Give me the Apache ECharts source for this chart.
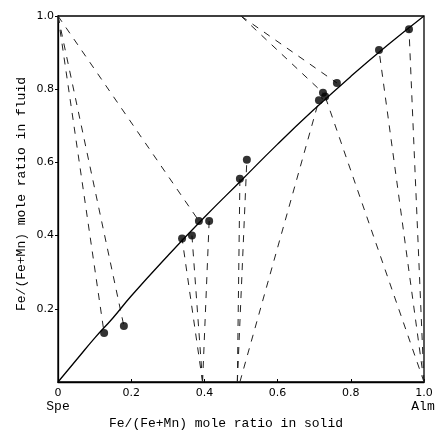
<!DOCTYPE html>
<html>
<head>
<meta charset="utf-8">
<script src="https://cdn.jsdelivr.net/npm/echarts@6/dist/echarts.min.js"></script>
<style>
html, body { margin: 0; padding: 0; background: #fff; }
#main { width: 440px; height: 434px; }
</style>
</head>
<body>
<div id="main"></div>
<script>
// measured points: Fe/(Fe+Mn) in solid (x) vs in fluid (y)
var solidRatio = [0.126, 0.18, 0.339, 0.366, 0.385, 0.413, 0.497, 0.516, 0.713, 0.724, 0.73, 0.762, 0.877, 0.959];
var fluidRatio = [0.134, 0.153, 0.392, 0.40, 0.44, 0.44, 0.555, 0.607, 0.77, 0.79, 0.78, 0.817, 0.907, 0.964];

// fitted curve
var curveX = [0, 0.05, 0.1, 0.15, 0.2, 0.3, 0.4, 0.5, 0.6, 0.7, 0.8, 0.9, 1];
var curveY = [0, 0.06, 0.12, 0.175, 0.235, 0.345, 0.45, 0.55, 0.65, 0.745, 0.835, 0.92, 1];

// dashed run paths: start composition -> final composition
var tieStartX = [0, 0, 0, 0.5, 0.5, 1, 1, 1, 0.395, 0.395, 0.395, 0.49, 0.49, 0.497];
var tieStartY = [1, 1, 1, 1, 1, 0, 0, 0, 0, 0, 0, 0, 0, 0];
var tieEndX = [0.126, 0.18, 0.385, 0.762, 0.724, 0.959, 0.877, 0.73, 0.339, 0.366, 0.413, 0.497, 0.516, 0.713];
var tieEndY = [0.134, 0.153, 0.44, 0.817, 0.79, 0.964, 0.907, 0.78, 0.392, 0.40, 0.44, 0.555, 0.607, 0.77];

var tickLabels = ['0', '0.2', '0.4', '0.6', '0.8', '1.0'];

var myChart = echarts.init(document.getElementById('main'));

var series = [];
for (var i = 0; i < tieStartX.length; i++) {
    series.push({
        type: 'line',
        silent: true,
        symbol: 'none',
        data: [[tieStartX[i], tieStartY[i]], [tieEndX[i], tieEndY[i]]],
        lineStyle: {color: '#222', width: 1, type: [7, 7]},
        z: 1
    });
}
var curveData = [];
for (var i = 0; i < curveX.length; i++) {
    curveData.push([curveX[i], curveY[i]]);
}
series.push({
    type: 'line',
    symbol: 'none',
    smooth: true,
    data: curveData,
    lineStyle: {color: '#000', width: 1.3},
    z: 2
});
var pts = [];
for (var i = 0; i < solidRatio.length; i++) {
    pts.push([solidRatio[i], fluidRatio[i]]);
}
series.push({
    type: 'scatter',
    symbol: 'circle',
    symbolSize: 8,
    data: pts,
    itemStyle: {color: '#000'},
    z: 3
});

function fmt(v) {
    var idx = Math.round(v / 0.2);
    return tickLabels[idx];
}

var option = {
    animation: false,
    grid: {
        left: 58,
        right: 16,
        top: 16,
        bottom: 52,
        show: true,
        borderColor: '#000',
        borderWidth: 1.3
    },
    xAxis: {
        type: 'value',
        min: 0,
        max: 1,
        interval: 0.2,
        splitLine: {show: false},
        axisLine: {lineStyle: {color: '#000', width: 1.3}},
        axisTick: {inside: true, length: 3, lineStyle: {color: '#000'}},
        axisLabel: {
            color: '#000',
            fontSize: 11,
            fontFamily: 'DejaVu Sans',
            margin: 6,
            formatter: fmt
        }
    },
    yAxis: {
        type: 'value',
        min: 0,
        max: 1,
        interval: 0.2,
        splitLine: {show: false},
        axisLine: {lineStyle: {color: '#000', width: 1.3}},
        axisTick: {length: 3, lineStyle: {color: '#000'}},
        axisLabel: {
            color: '#000',
            fontSize: 11,
            fontFamily: 'DejaVu Sans',
            margin: 4,
            showMinLabel: false,
            formatter: fmt
        }
    },
    graphic: [
        {
            type: 'text', x: 58, y: 407,
            style: {text: 'Spe', font: '13px "Liberation Mono"', fill: '#000', align: 'center', verticalAlign: 'middle'}
        },
        {
            type: 'text', x: 423, y: 407,
            style: {text: 'Alm', font: '13px "Liberation Mono"', fill: '#000', align: 'center', verticalAlign: 'middle'}
        },
        {
            type: 'text', x: 226, y: 424,
            style: {text: 'Fe/(Fe+Mn) mole ratio in solid', font: '13px "Liberation Mono"', fill: '#000', align: 'center', verticalAlign: 'middle'}
        },
        {
            type: 'text', x: 22, y: 194, rotation: Math.PI / 2,
            style: {text: 'Fe/(Fe+Mn) mole ratio in fluid', font: '13px "Liberation Mono"', fill: '#000', align: 'center', verticalAlign: 'middle'}
        }
    ],
    series: series
};

myChart.setOption(option);
</script>
</body>
</html>
